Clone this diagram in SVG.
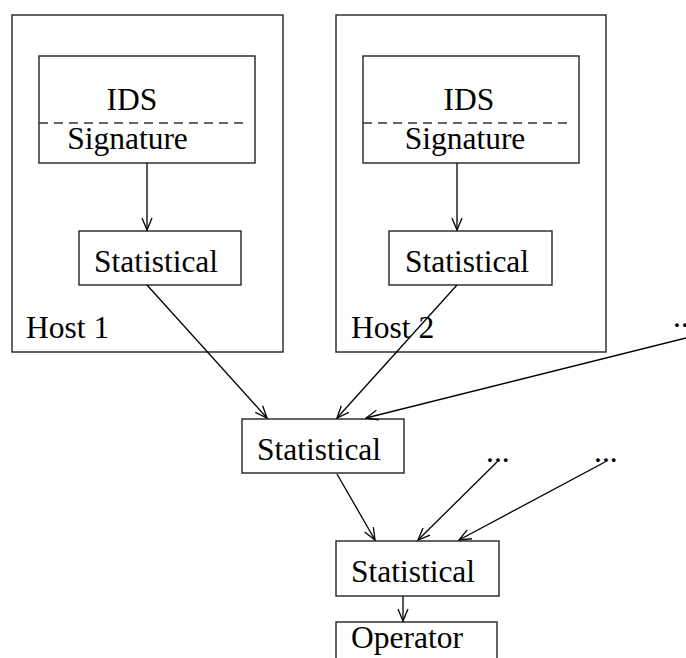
<svg xmlns="http://www.w3.org/2000/svg" width="686" height="658" viewBox="0 0 686 658">
<defs>
<style>
.box{fill:none;stroke:#222;stroke-width:1.4}
.dash{fill:none;stroke:#333;stroke-width:1.3;stroke-dasharray:9 6}
text{font-family:'Liberation Serif','Times New Roman','DejaVu Serif',serif;font-size:31.5px;fill:#000}
.c{text-anchor:middle}
.e{fill:none;stroke:#000;stroke-width:1.3}
</style>
<marker id="ah" markerUnits="userSpaceOnUse" markerWidth="16" markerHeight="14" refX="13" refY="6" orient="auto" viewBox="0 0 16 12">
<path d="M1,1 L13,6 L1,11" fill="none" stroke="#000" stroke-width="1.3"/>
</marker>
</defs>
<rect width="686" height="658" fill="#fff"/>
<g id="host1">
<rect class="box" x="12" y="15" width="271" height="337"/>
<text x="26" y="338">Host 1</text>
</g>
<g id="ids1">
<rect class="box" x="39" y="56" width="216" height="107"/>
<line class="dash" x1="39" y1="123" x2="248" y2="123"/>
<text class="c" x="132" y="110">IDS</text>
<text class="c" x="127.5" y="149">Signature</text>
</g>
<g id="stat1">
<rect class="box" x="79" y="231" width="162" height="54"/>
<text class="c" x="156" y="272">Statistical</text>
</g>
<g id="host2">
<rect class="box" x="336" y="15" width="270" height="337"/>
<text x="351" y="338">Host 2</text>
</g>
<g id="ids2">
<rect class="box" x="363" y="56" width="216" height="107"/>
<line class="dash" x1="363" y1="123" x2="572" y2="123"/>
<text class="c" x="469" y="110">IDS</text>
<text class="c" x="465" y="149">Signature</text>
</g>
<g id="stat2">
<rect class="box" x="389" y="231" width="163" height="54"/>
<text class="c" x="467" y="272">Statistical</text>
</g>
<g id="stat3">
<rect class="box" x="242" y="419" width="162" height="54"/>
<text class="c" x="319" y="460">Statistical</text>
</g>
<g id="stat4">
<rect class="box" x="336" y="541" width="163" height="55"/>
<text class="c" x="413" y="582">Statistical</text>
</g>
<g id="operator">
<rect class="box" x="336" y="622" width="161" height="60"/>
<text class="c" x="407" y="648">Operator</text>
</g>
<g id="dots">
<text x="486" y="462">...</text>
<text x="594" y="462">...</text>
<text x="673" y="327">...</text>
</g>
<g id="connectors">
<line class="e" x1="147" y1="163" x2="147" y2="230" marker-end="url(#ah)"/>
<line class="e" x1="457" y1="163" x2="457" y2="230" marker-end="url(#ah)"/>
<line class="e" x1="147" y1="285" x2="267" y2="418" marker-end="url(#ah)"/>
<line class="e" x1="457" y1="285" x2="337" y2="418" marker-end="url(#ah)"/>
<line class="e" x1="686" y1="338" x2="366" y2="418" marker-end="url(#ah)"/>
<line class="e" x1="337" y1="474" x2="375" y2="540" marker-end="url(#ah)"/>
<line class="e" x1="497" y1="462" x2="418" y2="540" marker-end="url(#ah)"/>
<line class="e" x1="605" y1="462" x2="459" y2="540" marker-end="url(#ah)"/>
<line class="e" x1="403" y1="596" x2="403" y2="621" marker-end="url(#ah)"/>
</g>
</svg>
